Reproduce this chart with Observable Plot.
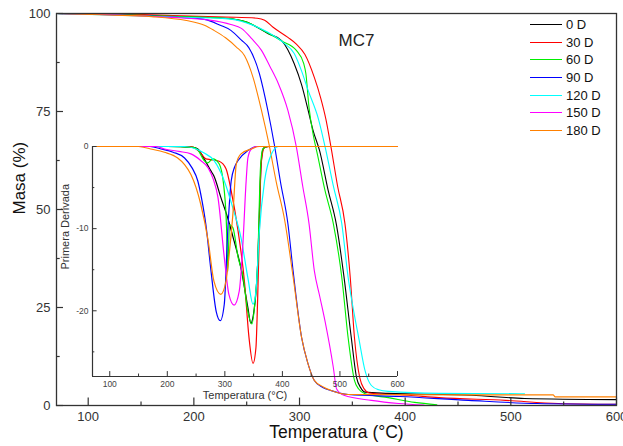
<!DOCTYPE html>
<html><head><meta charset="utf-8">
<script src="https://cdn.jsdelivr.net/npm/d3@7"></script>
<script src="https://cdn.jsdelivr.net/npm/@observablehq/plot@0.6"></script>
<style>
body{margin:0;background:#fff;font-family:"Liberation Sans",Arial,sans-serif}
#wrap{position:relative;width:623px;height:446px;overflow:hidden}
#wrap svg{position:absolute}
#legend{position:absolute;left:530px;top:16px;font-size:13px;color:#111}
#legend .row{height:17.6px;display:flex;align-items:center}
#legend .sw{width:32px;height:0;border-top:1.2px solid;margin-right:4px}
</style></head><body><div id="wrap"></div>
<script>
// Series
const seriesNames = ["0 D","30 D","60 D","90 D","120 D","150 D","180 D"];
const seriesColors = ["#000000","#ff0000","#00ee00","#0000ff","#00ffff","#ff00ff","#ff8000"];

// Main chart ticks
const xMajor = [100,200,300,400,500,600];
const xMinor = [150,250,350,450,550];
const yMajor = [0,25,50,75,100];
const yMinor = [12.5,37.5,62.5,87.5];
// Inset ticks
const ixMajor = [100,200,300,400,500,600];
const ixMinor = [150,250,350,450,550];
const iyMajor = [0,-10,-20];
const iyMinor = [-5,-15,-25];

// TGA mass (%) vs temperature (°C)
const tga0D = [[70,100],[120,99.8],[180,99.3],[230,98.8],[250,97.8],[270,94.9],[283,93.1],[295,87.2],[302,81.8],[308,75.5],[313,70],[319,65],[327,55],[335,46],[342,33],[349,17.3],[354,7.1],[358,4.5],[362,3.4],[384,3.1],[463,2.6],[513,1.8],[600,1.5]];
const tga30D = [[70,100],[120,99.9],[180,99.5],[230,99.1],[260,98.8],[267,98.3],[275,96.5],[289,93.9],[297,92.2],[305,89.6],[314,83.7],[320,78.5],[325,73],[330,65.6],[336,56],[343,46.4],[348,32.7],[352,17.3],[357,7.1],[361,4.3],[366,3.2],[403,2.6],[432,2.0],[495,1.3],[545,0.5],[600,0.3]];
const tga60D = [[70,100],[120,99.8],[180,99.3],[230,98.8],[250,97.8],[270,95],[283,93],[297,90.6],[304,87.2],[306,84.7],[309,76],[313,69],[317,64],[324,55],[332,46.4],[340,32.7],[346,17.3],[352,6.4],[356,4.2],[362,3.0],[384,2.0],[409,0.8],[430,0.2]];
const tga90D = [[70,100],[120,99.7],[180,99.1],[210,98.5],[225,97],[235,95.7],[245,93.2],[252,91.3],[262,84.7],[270,75.3],[276,66.8],[282,57],[289,46.4],[294,34.2],[302,17.3],[308,10.7],[314,6.4],[322,4.6],[330,3.8],[346,2.8],[395,2.3],[460,1.3],[525,0.5],[600,0.3]];
const tga120D = [[70,100],[120,99.6],[180,99.1],[230,98.7],[250,97.6],[270,95.2],[285,92.5],[295,89.8],[302,85.3],[308,80.5],[318,73],[325,65],[332,56],[340,46.4],[346,32.7],[352,23],[356,17.3],[362,8.9],[368,5.1],[375,4.0],[384,3.6],[432,3.1],[513,3.0]];
const tga150D = [[70,100],[120,99.7],[180,99],[215,98.3],[235,97.2],[245,96.2],[255,93.5],[264,90.6],[272,86.5],[280,82.1],[289,75.3],[297,66],[303,56],[309,46.4],[314,34.4],[319,28],[324,21.7],[332,9.7],[335,4.3],[342,2.6],[368,1.3],[394,0.5],[418,0.1]];
const tga180D = [[70,100],[120,99.6],[160,99.2],[193,98.2],[210,97],[219,95.7],[230,93.8],[240,91.5],[248,89.2],[256,83.7],[264,75.3],[271,66.8],[278,57],[286,47.2],[294,32.7],[302,17.3],[308,10.7],[314,6.4],[322,4.8],[330,3.8],[346,2.8],[450,2.7],[540,2.7],[542,2.2],[600,2.2]];

// DTG (first derivative) vs temperature (°C)
const dtg0D = [[70,0],[200,0],[245,-0.1],[253,-0.3],[264,-1.5],[276,-3.0],[281,-3.6],[293,-6.2],[305,-8.7],[316,-11.5],[328,-14.8],[340,-19.6],[345,-21.5],[351,-19.8],[357,-14.3],[360,-8.2],[363,-2.1],[367,-0.2],[375,0],[600,0]];
const dtg30D = [[70,0],[200,0],[241,0],[250,-0.3],[258,-0.8],[267,-1.5],[276,-1.6],[290,-1.8],[302,-2.7],[311,-5.4],[323,-10.3],[334,-16.4],[342,-23.3],[349,-26.4],[354,-24.5],[357,-18.5],[360,-10.3],[363,-2.1],[369,-0.1],[380,0],[600,0]];
const dtg60D = [[70,0],[200,0],[245,-0.1],[253,-0.4],[264,-1.7],[270,-2.0],[279,-1.5],[290,-2.1],[299,-5.4],[303,-10],[305,-15.2],[308,-9.5],[314,-9.9],[323,-13.5],[331,-15.6],[340,-20.1],[347,-21.6],[352,-19.2],[357,-14.3],[362,-2.5],[366,-0.3],[375,0],[600,0]];
const dtg90D = [[70,0],[170,0],[189,-0.3],[210,-0.7],[230,-1.4],[243,-2.6],[253,-4.2],[260,-6.5],[267,-9.5],[276,-15.2],[285,-20.1],[292,-21.2],[299,-19.2],[305,-10.3],[311,-4.2],[317,-2.5],[323,-1.7],[340,-0.5],[355,0],[600,0]];
const dtg120D = [[70,0],[230,0],[250,-0.3],[264,-0.8],[281,-1.7],[299,-4.2],[314,-7.5],[328,-11.1],[340,-16.0],[349,-19.2],[354,-17.6],[360,-10.3],[369,-4.2],[381,-0.9],[393,0],[600,0]];
const dtg150D = [[70,0],[180,0],[195,-0.3],[220,-0.6],[241,-0.9],[258,-1.7],[271,-2.6],[280,-4],[288,-6.2],[299,-13.5],[307,-18.0],[316,-19.3],[325,-17.6],[331,-12.3],[337,-4.2],[340,-1.4],[346,-0.3],[355,0],[600,0]];
const dtg180D = [[70,0],[150,0],[171,-0.3],[195,-0.7],[218,-1.4],[230,-2.2],[241,-3.4],[250,-5],[258,-7.0],[271,-11.5],[281,-16.4],[293,-18.0],[302,-16.4],[307,-13.5],[314,-8.2],[320,-2.1],[328,-0.9],[346,-0.3],[360,0],[600,0]];

const annotation = [{x: 354, y: 93, text: "MC7"}];

const tgaSets = [tga0D,tga30D,tga60D,tga90D,tga120D,tga150D,tga180D];
const dtgSets = [dtg0D,dtg30D,dtg60D,dtg90D,dtg120D,dtg150D,dtg180D];
const tgaRows = tgaSets.flatMap((s,i)=>s.map(([T,M])=>({series:seriesNames[i],T,M})));
const dtgRows = dtgSets.flatMap((s,i)=>s.map(([T,D])=>({series:seriesNames[i],T,D})));
const color = {domain: seriesNames, range: seriesColors};

const ff = "Liberation Sans, Arial, sans-serif";
const main = Plot.plot({
  width: 623, height: 446,
  marginLeft: 56, marginRight: 7, marginTop: 13, marginBottom: 41,
  style: {fontFamily: ff, fontSize: "13px", color: "#333", background: "transparent"},
  x: {domain: [70,600], ticks: xMajor, tickSize: 0, tickPadding: 6, label: null},
  y: {domain: [0,100], ticks: yMajor, tickSize: 0, tickPadding: 6, label: null},
  color,
  marks: [
    Plot.line(tgaRows, {x:"T", y:"M", stroke:"series", z:"series", strokeWidth:1.1, curve:"monotone-x"}),
    Plot.frame({stroke:"#333", strokeWidth:1.3}),
    Plot.ruleX(xMajor, {x:d=>d, y1:0, y2:1.9, stroke:"#333", strokeWidth:1.2}),
    Plot.ruleX(xMinor, {x:d=>d, y1:0, y2:0.9, stroke:"#333", strokeWidth:1.2}),
    Plot.ruleY(yMajor, {y:d=>d, x1:70, x2:76.6, stroke:"#333", strokeWidth:1.2}),
    Plot.ruleY(yMinor, {y:d=>d, x1:70, x2:73.5, stroke:"#333", strokeWidth:1.2}),
    Plot.text(["Masa (%)"], {text:d=>d, frameAnchor:"left", dx:-37, dy:5, rotate:-90, fontSize:17, fill:"#111"}),
    Plot.text(["Temperatura (°C)"], {text:d=>d, frameAnchor:"bottom", dy:32, fontSize:17.5, fill:"#111"}),
    Plot.text(annotation, {x:"x", y:"y", text:"text", fontSize:17, fill:"#222"})
  ]
});

const inset = Plot.plot({
  width: 370, height: 280,
  marginLeft: 52, marginRight: 13, marginTop: 16, marginBottom: 34,
  style: {fontFamily: ff, fontSize: "8.5px", color: "#444", background: "transparent"},
  x: {domain: [70,600], ticks: ixMajor, tickSize: 0, tickPadding: 4, label: null},
  y: {domain: [-28,0], ticks: iyMajor, tickSize: 0, tickPadding: 4, label: null, tickFormat: d=>String(d)},
  color,
  marks: [
    Plot.line(dtgRows, {x:"T", y:"D", stroke:"series", z:"series", strokeWidth:1.2, curve:"monotone-x"}),
    Plot.ruleY([-28], {stroke:"#333", strokeWidth:1.2}),
    Plot.ruleX([70], {y1:-28, y2:0, stroke:"#333", strokeWidth:1.2}),
    Plot.ruleX(ixMajor, {x:d=>d, y1:-28, y2:-27.4, stroke:"#333"}),
    Plot.ruleX(ixMinor, {x:d=>d, y1:-28, y2:-27.7, stroke:"#333"}),
    Plot.ruleY(iyMajor, {y:d=>d, x1:70, x2:78, stroke:"#333"}),
    Plot.ruleY(iyMinor, {y:d=>d, x1:70, x2:74, stroke:"#333"}),
    Plot.text(["Primera Derivada"], {text:d=>d, frameAnchor:"left", dx:-27, dy:8, rotate:-90, fontSize:11, fill:"#333"}),
    Plot.text(["Temperatura (°C)"], {text:d=>d, frameAnchor:"bottom", dy:22, fontSize:11, fill:"#333"})
  ]
});

const wrap = document.getElementById("wrap");
main.style.left = "0px"; main.style.top = "0px";
inset.style.left = "40px"; inset.style.top = "130px";
wrap.appendChild(main);
wrap.appendChild(inset);

const legend = document.createElement("div");
legend.id = "legend";
seriesNames.forEach((n,i)=>{
  const row = document.createElement("div"); row.className = "row";
  const sw = document.createElement("div"); sw.className = "sw"; sw.style.borderTopColor = seriesColors[i];
  const t = document.createElement("span"); t.textContent = n;
  row.appendChild(sw); row.appendChild(t); legend.appendChild(row);
});
wrap.appendChild(legend);
</script></body></html>
